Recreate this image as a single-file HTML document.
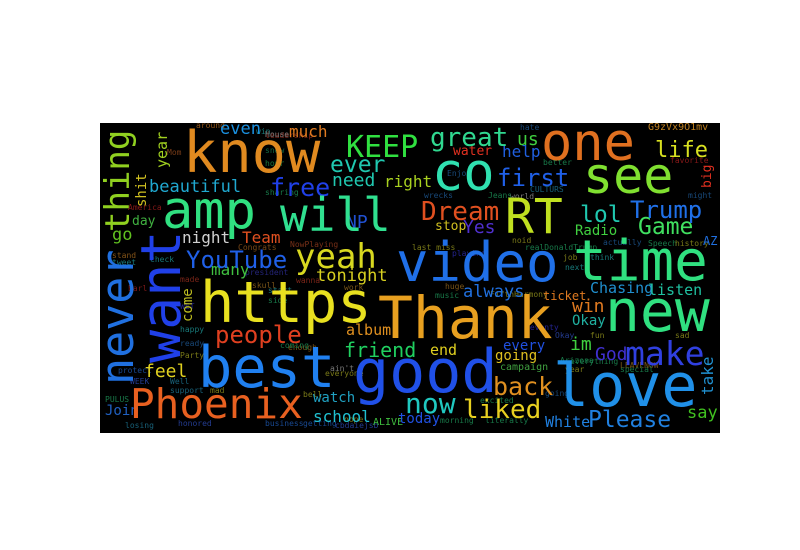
<!DOCTYPE html>
<html><head><meta charset="utf-8"><style>
html,body{margin:0;padding:0;background:#fff;width:800px;height:550px;overflow:hidden}
svg text{font-family:"DejaVu Sans Mono","Liberation Mono",monospace}
</style></head><body>
<svg width="800" height="550" viewBox="0 0 800 550">
<defs><clipPath id="c"><rect x="100" y="123" width="620" height="310"/></clipPath></defs>
<rect x="100" y="123" width="620" height="310" fill="#000"/>
<g clip-path="url(#c)">
<g font-size="8" opacity="0.75">
<text x="196" y="128" fill="#c07020">around</text>
<text x="265" y="138" fill="#b03020">leadership</text>
<text x="265" y="153" fill="#1a8a5a">snow</text>
<text x="265" y="166" fill="#20a050">hour</text>
<text x="256" y="134" fill="#20a0a0">win</text>
<text x="265" y="195" fill="#20a060">sharing</text>
<text x="128" y="210" fill="#b02020">America</text>
<text x="112" y="258" fill="#b07020">stand</text>
<text x="112" y="265" fill="#20a0a0">tweet</text>
<text x="150" y="262" fill="#20a0a0">check</text>
<text x="245" y="275" fill="#3030a0">president</text>
<text x="238" y="250" fill="#a06020">Congrats</text>
<text x="290" y="247" fill="#a04020">NowPlaying</text>
<text x="167" y="155" fill="#a05020">Mom</text>
<text x="265" y="137" fill="#a0a0a0">House</text>
<text x="128" y="291" fill="#a02020">Earl</text>
<text x="180" y="282" fill="#a03020">made</text>
<text x="180" y="309" fill="#3030c0">WET</text>
<text x="180" y="332" fill="#20a0a0">happy</text>
<text x="180" y="346" fill="#2060a0">ready</text>
<text x="180" y="358" fill="#a0a020">Party</text>
<text x="118" y="373" fill="#2060c0">protect</text>
<text x="130" y="384" fill="#3050c0">WEEK</text>
<text x="170" y="384" fill="#2080a0">Well</text>
<text x="170" y="393" fill="#2080a0">support</text>
<text x="105" y="402" fill="#20a060">PULUS</text>
<text x="125" y="428" fill="#2080a0">losing</text>
<text x="178" y="426" fill="#3050c0">honored</text>
<text x="210" y="393" fill="#a0a020">mad</text>
<text x="265" y="426" fill="#2060c0">business</text>
<text x="303" y="426" fill="#2060c0">getting</text>
<text x="335" y="428" fill="#3050c0">cbdaiejsb</text>
<text x="288" y="350" fill="#a07020">enough</text>
<text x="280" y="348" fill="#20a060">coming</text>
<text x="330" y="371" fill="#a0a0a0">ain't</text>
<text x="325" y="376" fill="#a0a020">everyone</text>
<text x="303" y="397" fill="#a0a020">bell</text>
<text x="268" y="293" fill="#20a0a0">start</text>
<text x="268" y="303" fill="#20a060">side</text>
<text x="296" y="283" fill="#a03020">wanna</text>
<text x="252" y="288" fill="#a07020">skull</text>
<text x="344" y="290" fill="#a07020">work</text>
<text x="344" y="422" fill="#a0a020">nope</text>
<text x="525" y="330" fill="#3030c0">seventy</text>
<text x="555" y="338" fill="#3050c0">Okay</text>
<text x="590" y="338" fill="#a0a020">fun</text>
<text x="675" y="338" fill="#a0a020">sad</text>
<text x="620" y="368" fill="#a07020">LEAVENOW</text>
<text x="620" y="372" fill="#20a060">special</text>
<text x="570" y="364" fill="#20a060">everything</text>
<text x="565" y="372" fill="#a0a020">year</text>
<text x="480" y="403" fill="#20a060">excited</text>
<text x="545" y="396" fill="#2060a0">going</text>
<text x="440" y="423" fill="#20a060">morning</text>
<text x="485" y="423" fill="#20a060">literally</text>
<text x="560" y="363" fill="#20a060">Arizona</text>
<text x="490" y="297" fill="#a0a020">FifthHarmony</text>
<text x="435" y="298" fill="#20a060">music</text>
<text x="445" y="289" fill="#a07020">huge</text>
<text x="512" y="243" fill="#a0a020">noid</text>
<text x="525" y="250" fill="#20a060">realDonaldTrump</text>
<text x="412" y="250" fill="#a0a020">last miss</text>
<text x="452" y="256" fill="#3030c0">playing</text>
<text x="603" y="245" fill="#2060a0">actually</text>
<text x="648" y="246" fill="#20a060">Speech</text>
<text x="675" y="246" fill="#a0a020">history</text>
<text x="590" y="260" fill="#20a0a0">think</text>
<text x="565" y="270" fill="#20a0a0">next</text>
<text x="563" y="260" fill="#a0a020">job</text>
<text x="510" y="199" fill="#a0a0a0">world</text>
<text x="530" y="192" fill="#2080a0">CULTURS</text>
<text x="488" y="198" fill="#20a060">Jeans</text>
<text x="543" y="165" fill="#20a060">better</text>
<text x="520" y="130" fill="#2060a0">hate</text>
<text x="670" y="163" fill="#b02020">favorite</text>
<text x="688" y="198" fill="#2060a0">might</text>
<text x="447" y="176" fill="#2060a0">Enjoy</text>
<text x="424" y="198" fill="#2060a0">wrecks</text>
</g>
<text x="220" y="134" font-size="17" fill="#1a90e0">even</text>
<text x="289" y="137" font-size="16" fill="#e07a20">much</text>
<text x="330" y="172" font-size="23" fill="#20c8b0">ever</text>
<text x="332" y="186" font-size="18" fill="#20c8b0">need</text>
<text x="384" y="187" font-size="16" fill="#a8d020">right</text>
<text transform="translate(167,168) rotate(-90)" font-size="15" fill="#a0d020">year</text>
<text transform="translate(146,207) rotate(-90)" font-size="14" fill="#d0c020">shit</text>
<text x="149" y="192" font-size="17" fill="#20a8d0">beautiful</text>
<text x="270" y="196" font-size="25" fill="#2040e8">free</text>
<text x="346" y="228" font-size="18" fill="#2050d0">NP</text>
<text x="182" y="243" font-size="16" fill="#d0d0d0">night</text>
<text x="242" y="243" font-size="16" fill="#e05020">Team</text>
<text x="112" y="240" font-size="17" fill="#60c020">go</text>
<text x="132" y="225" font-size="13" fill="#40b040">day</text>
<text x="211" y="275" font-size="16" fill="#40c040">many</text>
<text x="186" y="268" font-size="24" fill="#2060e8">YouTube</text>
<text x="316" y="281" font-size="17" fill="#d8d020">tonight</text>
<text x="346" y="335" font-size="15" fill="#e09020">album</text>
<text transform="translate(192,322) rotate(-90)" font-size="14" fill="#c0c020">come</text>
<text x="215" y="343" font-size="24" fill="#e04020">people</text>
<text x="344" y="357" font-size="20" fill="#20d060">friend</text>
<text x="144" y="377" font-size="18" fill="#e0d020">feel</text>
<text x="313" y="402" font-size="14" fill="#20a0c0">watch</text>
<text x="313" y="422" font-size="16" fill="#20c0d0">school</text>
<text x="105" y="415" font-size="14" fill="#2060c0">Join</text>
<text x="373" y="425" font-size="10" fill="#40c040">ALIVE</text>
<text x="398" y="423" font-size="14" fill="#2050e0">today</text>
<text x="545" y="427" font-size="15" fill="#2080e0">White</text>
<text x="687" y="418" font-size="17" fill="#40c020">say</text>
<text transform="translate(713,395) rotate(-90)" font-size="16" fill="#2090d0">take</text>
<text x="595" y="360" font-size="18" fill="#4030d0">God</text>
<text x="570" y="350" font-size="18" fill="#40d040">im</text>
<text x="503" y="350" font-size="14" fill="#2050e0">every</text>
<text x="430" y="355" font-size="15" fill="#e0d020">end</text>
<text x="495" y="360" font-size="14" fill="#e0c020">going</text>
<text x="500" y="370" font-size="10" fill="#40a040">campaign</text>
<text x="572" y="312" font-size="18" fill="#e07a20">win</text>
<text x="572" y="325" font-size="14" fill="#20b0a0">Okay</text>
<text x="463" y="297" font-size="17" fill="#2070e0">always</text>
<text x="543" y="300" font-size="12" fill="#e07a20">ticket</text>
<text x="590" y="293" font-size="15" fill="#2090d0">Chasing</text>
<text x="648" y="295" font-size="15" fill="#20c0a0">listen</text>
<text x="575" y="235" font-size="14" fill="#40d040">Radio</text>
<text x="463" y="233" font-size="18" fill="#5030d0">Yes</text>
<text x="435" y="230" font-size="13" fill="#d0c020">stop</text>
<text x="453" y="155" font-size="13" fill="#e03020">water</text>
<text x="502" y="157" font-size="16" fill="#2060e0">help</text>
<text x="517" y="145" font-size="18" fill="#40d040">us</text>
<text x="648" y="130" font-size="10" fill="#c08020">G9zVx9O1mv</text>
<text transform="translate(711,188) rotate(-90)" font-size="13" fill="#e03020">big</text>
<text x="703" y="245" font-size="12" fill="#2070e0">AZ</text>
<text x="655" y="157" font-size="22" fill="#d8e020">life</text>
<text x="638" y="234" font-size="23" fill="#40e060">Game</text>
<text x="580" y="222" font-size="23" fill="#20c8b0">lol</text>
<text x="630" y="218" font-size="24" fill="#2070e8">Trump</text>
<text x="497" y="186" font-size="24" fill="#2060e8">first</text>
<text x="421" y="220" font-size="26" fill="#e05020">Dream</text>
<text x="430" y="146" font-size="26" fill="#30d890">great</text>
<text x="346" y="157" font-size="30" fill="#30e040">KEEP</text>
<text x="463" y="418" font-size="26" fill="#e8d020">liked</text>
<text x="405" y="413" font-size="28" fill="#20c8c0">now</text>
<text x="493" y="395" font-size="25" fill="#e09020">back</text>
<text x="588" y="427" font-size="23" fill="#2080e0">Please</text>
<text x="625" y="365" font-size="33" fill="#3040e0">make</text>
<text x="295" y="268" font-size="34" fill="#d8d820">yeah</text>
<text transform="translate(129,232) rotate(-90)" font-size="34" fill="#90d020">thing</text>
<text transform="translate(133,385) rotate(-90)" font-size="45" fill="#2070e0">never</text>
<text transform="translate(180,363) rotate(-90)" font-size="55" fill="#2040e8">want</text>
<text x="183" y="172" font-size="57" fill="#e08a20">know</text>
<text x="162" y="228" font-size="52" fill="#30e080">amp</text>
<text x="280" y="231" font-size="46" fill="#30e090">will</text>
<text x="541" y="160" font-size="52" fill="#e07020">one</text>
<text x="432" y="190" font-size="52" fill="#30e0b0">co</text>
<text x="583" y="193" font-size="50" fill="#80e030">see</text>
<text x="505" y="233" font-size="48" fill="#c0e020">RT</text>
<text x="396" y="281" font-size="54" fill="#2070e8">video</text>
<text x="573" y="280" font-size="56" fill="#30e080">time</text>
<text x="200" y="322" font-size="57" fill="#e8e020">https</text>
<text x="378" y="338" font-size="58" fill="#e8a020">Thank</text>
<text x="605" y="331" font-size="58" fill="#30e080">new</text>
<text x="198" y="387" font-size="57" fill="#2080f0">best</text>
<text x="353" y="392" font-size="60" fill="#2050e8">good</text>
<text x="553" y="406" font-size="60" fill="#2090e8">love</text>
<text x="130" y="418" font-size="41" fill="#e86020">Phoenix</text>
</g>
</svg>
</body></html>
